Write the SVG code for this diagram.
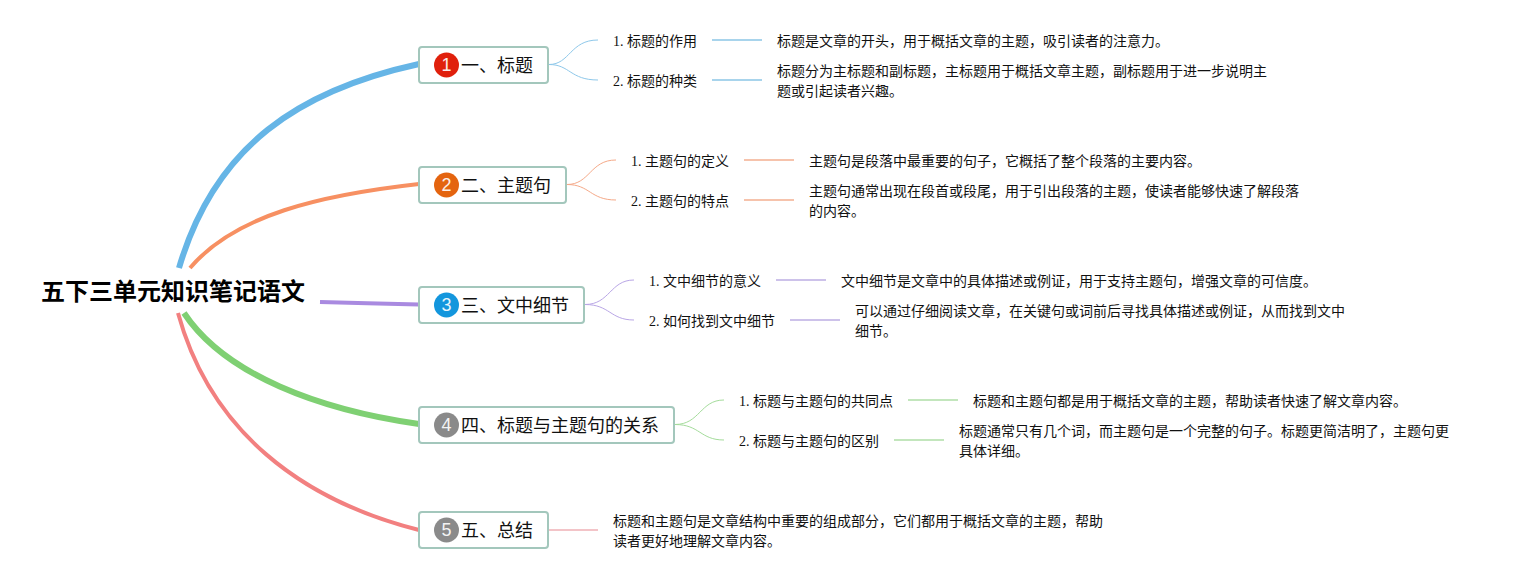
<svg xmlns="http://www.w3.org/2000/svg" width="1519" height="580" viewBox="0 0 1519 580">
<style>
text{font-family:"Liberation Serif","Noto Sans CJK SC",serif;fill:#111}
.root{font-size:24px;font-weight:700;font-family:"Noto Sans CJK SC",sans-serif;fill:#000}
.t1{font-size:18px;font-family:"Noto Sans CJK SC",sans-serif}
.t2{font-size:14px}
.box{fill:#fff;stroke:#a3c7bc;stroke-width:2}
.num{font-size:18px;font-family:"Liberation Sans",sans-serif;fill:#fff;text-anchor:middle;opacity:.9}
.c{fill:none;stroke-linecap:butt}
.b{stroke:#66b5e6}.o{stroke:#f79062}.p{stroke:#a98ae0}.g{stroke:#7fd073}.r{stroke:#f28080}
.bl{stroke:#a8d4ec}.ol{stroke:#f6c3ac}.pl{stroke:#cdc2ea}.gl{stroke:#c3e6bd}.rl{stroke:#f3c4c8}
.s{stroke-width:1}.h{stroke-width:2}
</style>
<g id="connectors">
<path class="c b" d="M179 268C215 145 300 90 419 64" stroke-width="6"/>
<path class="c o" d="M190 268C235 215 320 195 419 184" stroke-width="4"/>
<path class="c p" d="M320 302C350 303 390 304 419 304.500" stroke-width="4"/>
<path class="c g" d="M184 313C225 375 320 410 419 424" stroke-width="6"/>
<path class="c r" d="M178 313C210 430 300 500 419 530" stroke-width="4"/>
<path class="c bl s" d="M549 64.500C570 64.500 570 40 598 40M549 64.500C570 64.500 570 80 598 80" style="stroke:#8ec8ea"/>
<path class="c bl h" d="M712 40H762M712 80H762"/>
<path class="c ol s" d="M567 184.500C590 184.500 590 160 616 160M567 184.500C590 184.500 590 200 616 200" style="stroke:#f5a988"/>
<path class="c ol h" d="M744 160H794M744 200H794"/>
<path class="c pl s" d="M585 304.500C610 304.500 610 280 634 280M585 304.500C610 304.500 610 320 634 320" style="stroke:#b9a6e6"/>
<path class="c pl h" d="M776 280H826M790 320H840"/>
<path class="c gl s" d="M675 424.500C700 424.500 700 400 724 400M675 424.500C700 424.500 700 440 724 440" style="stroke:#a4dc9b"/>
<path class="c gl h" d="M908 400H958M894 440H944"/>
<path class="c rl h" d="M549 530H598"/>
</g>
<g id="root"><text class="root" x="41" y="300">五下三单元知识笔记语文</text></g>
<g id="n1"><rect class="box" x="419" y="47" width="129" height="36" rx="3"/><circle cx="446.500" cy="65" r="12.500" fill="#e0200c"/><text class="num" x="446.500" y="71">1</text><text class="t1" x="461" y="72">一、标题</text></g>
<g id="n2"><rect class="box" x="419" y="167" width="147" height="36" rx="3"/><circle cx="446.500" cy="185" r="12.500" fill="#e4640f"/><text class="num" x="446.500" y="191">2</text><text class="t1" x="461" y="192">二、主题句</text></g>
<g id="n3"><rect class="box" x="419" y="287" width="165" height="36" rx="3"/><circle cx="446.500" cy="305" r="12.500" fill="#1396dd"/><text class="num" x="446.500" y="311">3</text><text class="t1" x="461" y="312">三、文中细节</text></g>
<g id="n4"><rect class="box" x="419" y="407" width="255" height="36" rx="3"/><circle cx="446.500" cy="425" r="12.500" fill="#8a8a8a"/><text class="num" x="446.500" y="431">4</text><text class="t1" x="461" y="432">四、标题与主题句的关系</text></g>
<g id="n5"><rect class="box" x="419" y="512" width="129" height="36" rx="3"/><circle cx="446.500" cy="530" r="12.500" fill="#8a8a8a"/><text class="num" x="446.500" y="536">5</text><text class="t1" x="461" y="537">五、总结</text></g>
<g id="n1a"><text class="t2" x="613" y="46">1. 标题的作用</text></g>
<g id="n1b"><text class="t2" x="613" y="86">2. 标题的种类</text></g>
<g id="n1a1"><text class="t2" x="777" y="46">标题是文章的开头，用于概括文章的主题，吸引读者的注意力。</text></g>
<g id="n1b1"><text class="t2" x="777" y="76">标题分为主标题和副标题，主标题用于概括文章主题，副标题用于进一步说明主</text><text class="t2" x="777" y="96">题或引起读者兴趣。</text></g>
<g id="n2a"><text class="t2" x="631" y="166">1. 主题句的定义</text></g>
<g id="n2b"><text class="t2" x="631" y="206">2. 主题句的特点</text></g>
<g id="n2a1"><text class="t2" x="809" y="166">主题句是段落中最重要的句子，它概括了整个段落的主要内容。</text></g>
<g id="n2b1"><text class="t2" x="809" y="196">主题句通常出现在段首或段尾，用于引出段落的主题，使读者能够快速了解段落</text><text class="t2" x="809" y="216">的内容。</text></g>
<g id="n3a"><text class="t2" x="649" y="286">1. 文中细节的意义</text></g>
<g id="n3b"><text class="t2" x="649" y="326">2. 如何找到文中细节</text></g>
<g id="n3a1"><text class="t2" x="841" y="286">文中细节是文章中的具体描述或例证，用于支持主题句，增强文章的可信度。</text></g>
<g id="n3b1"><text class="t2" x="855" y="316">可以通过仔细阅读文章，在关键句或词前后寻找具体描述或例证，从而找到文中</text><text class="t2" x="855" y="336">细节。</text></g>
<g id="n4a"><text class="t2" x="739" y="406">1. 标题与主题句的共同点</text></g>
<g id="n4b"><text class="t2" x="739" y="446">2. 标题与主题句的区别</text></g>
<g id="n4a1"><text class="t2" x="973" y="406">标题和主题句都是用于概括文章的主题，帮助读者快速了解文章内容。</text></g>
<g id="n4b1"><text class="t2" x="959" y="436">标题通常只有几个词，而主题句是一个完整的句子。标题更简洁明了，主题句更</text><text class="t2" x="959" y="456">具体详细。</text></g>
<g id="n5a"><text class="t2" x="613" y="526">标题和主题句是文章结构中重要的组成部分，它们都用于概括文章的主题，帮助</text><text class="t2" x="613" y="546">读者更好地理解文章内容。</text></g>
</svg>
